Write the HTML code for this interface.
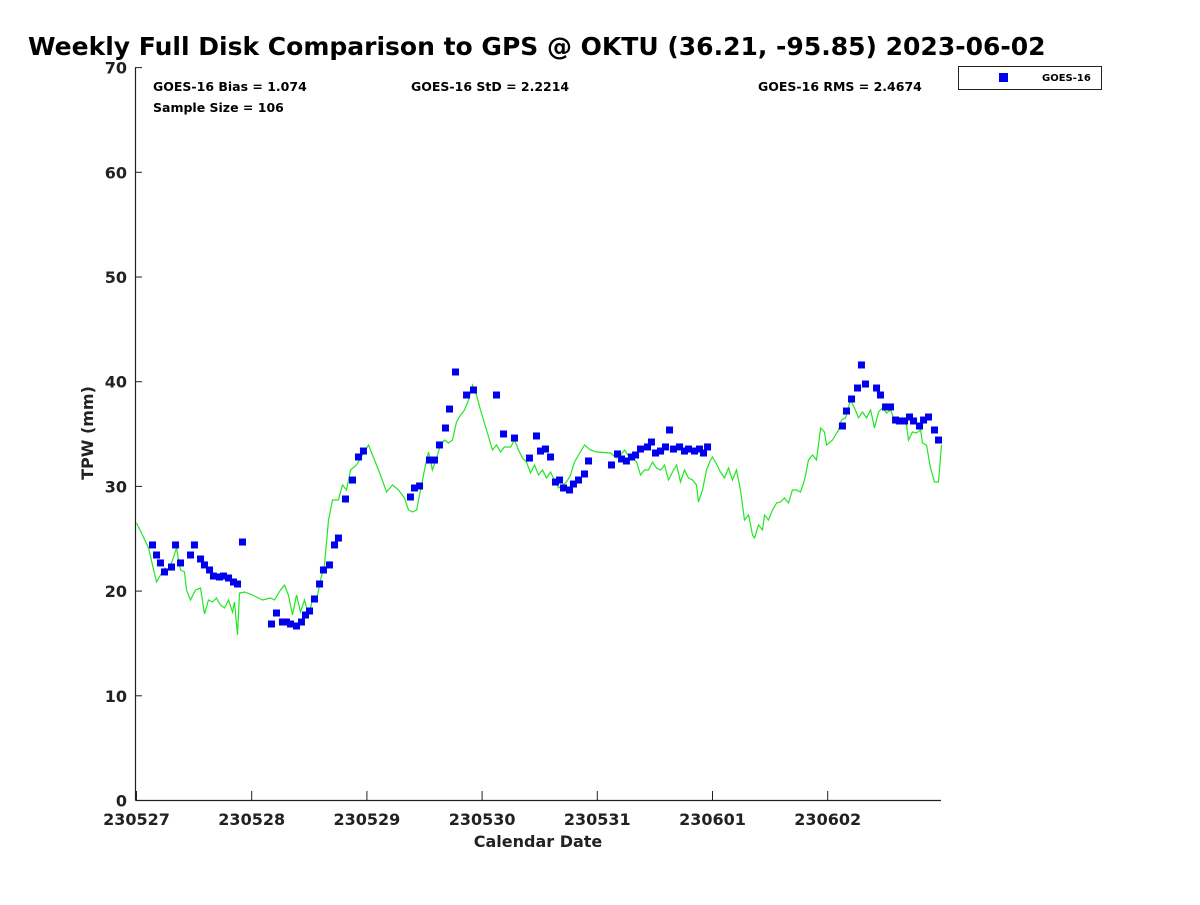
<!DOCTYPE html>
<html><head><meta charset="utf-8"><style>
body{margin:0;background:#fff}
svg text{font-family:"DejaVu Sans","Liberation Sans",sans-serif;font-weight:bold;fill:#222}
</style></head><body>
<svg id="chart" width="1200" height="900" xmlns="http://www.w3.org/2000/svg">
<text x="28" y="55" font-size="25" style="fill:#000">Weekly Full Disk Comparison to GPS @ OKTU (36.21, -95.85) 2023-06-02</text>
<g id="axes"></g>
<g id="gps-line"></g>
<g id="points"></g>
<text x="153" y="91" font-size="12.5" style="fill:#000">GOES-16 Bias = 1.074</text>
<text x="153" y="112" font-size="12.5" style="fill:#000">Sample Size = 106</text>
<text x="411" y="91" font-size="12.5" style="fill:#000">GOES-16 StD = 2.2214</text>
<text x="758" y="91" font-size="12.5" style="fill:#000">GOES-16 RMS = 2.4674</text>
<g>
<rect x="958.5" y="66.5" width="143" height="23" fill="#fff" stroke="#222"/>
<rect x="999" y="73" width="9" height="9" fill="#0000ee"/>
<text x="1042" y="81" font-size="10" style="fill:#000">GOES-16</text>
</g>
<text x="538" y="847" font-size="16" text-anchor="middle">Calendar Date</text>
<text transform="translate(93,433) rotate(-90)" font-size="16" text-anchor="middle">TPW (mm)</text>
</svg>
<script>
const xTickLabels=["230527","230528","230529","230530","230531","230601","230602"];
const yTickLabels=[0,10,20,30,40,50,60,70];
const goesDay=[0.139,0.174,0.208,0.243,0.304,0.339,0.382,0.469,0.503,0.556,0.590,0.634,0.668,0.720,0.755,0.799,0.842,0.877,0.920,1.172,1.215,1.267,1.302,1.337,1.389,1.432,1.467,1.502,1.545,1.589,1.623,1.675,1.719,1.753,1.814,1.875,1.927,1.970,2.378,2.413,2.457,2.543,2.587,2.630,2.682,2.717,2.769,2.865,2.925,3.125,3.186,3.281,3.411,3.472,3.507,3.550,3.594,3.637,3.672,3.707,3.759,3.793,3.837,3.889,3.924,4.123,4.175,4.210,4.253,4.297,4.332,4.375,4.436,4.470,4.505,4.549,4.592,4.627,4.661,4.714,4.757,4.792,4.844,4.887,4.922,4.957,6.128,6.163,6.207,6.259,6.293,6.328,6.424,6.458,6.502,6.545,6.589,6.623,6.667,6.710,6.745,6.797,6.832,6.875,6.927,6.962];
const goesTpw=[24.36,23.40,22.64,21.78,22.25,24.36,22.64,23.40,24.36,23.02,22.45,21.97,21.39,21.30,21.39,21.20,20.82,20.63,24.64,16.81,17.86,17.00,17.00,16.81,16.62,17.00,17.67,18.05,19.20,20.63,21.97,22.45,24.36,25.02,28.75,30.56,32.76,33.33,28.94,29.80,29.99,32.47,32.47,33.91,35.53,37.34,40.88,38.68,39.16,38.68,34.96,34.57,32.66,34.77,33.33,33.52,32.76,30.37,30.56,29.80,29.61,30.18,30.56,31.14,32.38,32.00,33.05,32.57,32.38,32.76,32.95,33.52,33.72,34.19,33.14,33.33,33.72,35.34,33.52,33.72,33.33,33.52,33.33,33.52,33.14,33.72,35.72,37.15,38.30,39.35,41.55,39.73,39.35,38.68,37.54,37.54,36.29,36.20,36.20,36.58,36.20,35.72,36.29,36.58,35.34,34.38];
const gpsDay=[0,0.052,0.104,0.139,0.174,0.208,0.243,0.278,0.313,0.347,0.382,0.417,0.434,0.469,0.512,0.556,0.590,0.625,0.660,0.694,0.729,0.764,0.799,0.833,0.851,0.877,0.894,0.938,1.007,1.094,1.163,1.198,1.250,1.285,1.319,1.354,1.389,1.424,1.458,1.493,1.528,1.563,1.597,1.632,1.667,1.701,1.753,1.788,1.823,1.858,1.910,1.962,2.014,2.066,2.118,2.170,2.222,2.274,2.326,2.361,2.396,2.431,2.465,2.500,2.535,2.569,2.604,2.639,2.674,2.708,2.743,2.778,2.813,2.847,2.882,2.917,2.951,2.986,3.038,3.090,3.125,3.160,3.194,3.247,3.281,3.316,3.351,3.385,3.420,3.455,3.490,3.524,3.559,3.594,3.628,3.663,3.698,3.733,3.767,3.802,3.837,3.889,3.941,3.993,4.115,4.167,4.201,4.236,4.271,4.306,4.340,4.375,4.410,4.444,4.479,4.514,4.549,4.583,4.618,4.653,4.688,4.722,4.757,4.792,4.826,4.861,4.878,4.913,4.948,4.983,5.000,5.035,5.069,5.104,5.139,5.174,5.208,5.243,5.278,5.313,5.347,5.365,5.399,5.434,5.451,5.486,5.521,5.556,5.590,5.625,5.660,5.694,5.729,5.764,5.799,5.833,5.868,5.903,5.938,5.972,5.990,6.042,6.094,6.120,6.155,6.198,6.233,6.267,6.302,6.337,6.372,6.406,6.441,6.476,6.510,6.545,6.580,6.615,6.649,6.684,6.701,6.736,6.771,6.806,6.823,6.858,6.892,6.927,6.962,6.988];
const gpsTpw=[26.46,25.31,24.07,22.45,20.82,21.49,22.16,21.97,22.92,24.07,21.97,21.78,20.06,19.10,20.06,20.25,17.77,19.10,18.91,19.29,18.62,18.34,19.10,17.96,18.91,15.76,19.77,19.87,19.58,19.10,19.29,19.10,20.06,20.53,19.58,17.67,19.58,17.96,19.10,17.67,19.10,19.10,21.01,22.45,26.74,28.65,28.65,30.09,29.61,31.52,32.00,32.95,33.91,32.47,31.04,29.42,30.09,29.61,28.84,27.70,27.51,27.70,29.61,31.52,33.24,31.52,32.66,33.91,34.38,34.10,34.38,36.10,36.77,37.25,38.20,39.64,38.68,37.25,35.34,33.43,33.91,33.24,33.72,33.72,34.38,33.43,32.66,32.28,31.23,32.00,31.04,31.52,30.75,31.33,30.56,29.80,30.09,30.37,31.04,32.28,32.95,33.91,33.43,33.24,33.14,32.66,32.95,33.43,32.86,32.66,32.28,31.04,31.52,31.52,32.28,31.71,31.52,32.00,30.56,31.33,32.00,30.37,31.52,30.75,30.56,30.09,28.46,29.61,31.52,32.47,32.76,32.09,31.33,30.75,31.71,30.56,31.52,29.61,26.74,27.22,25.31,25.02,26.27,25.79,27.22,26.74,27.70,28.37,28.46,28.84,28.37,29.61,29.61,29.42,30.56,32.47,32.95,32.47,35.53,35.15,33.91,34.38,35.34,36.29,36.49,38.20,37.44,36.49,37.06,36.49,37.25,35.53,37.06,37.44,36.96,37.25,36.29,36.01,36.49,35.82,34.38,35.15,35.05,35.34,34.10,33.91,31.71,30.37,30.37,33.91];

const NS="http://www.w3.org/2000/svg";
const X0=136.5,DAYPX=115.2,Y0=800,YPX=10.47,XR=941;
function xs(d){return X0+d*DAYPX;}
function ys(v){return Y0-v*YPX;}
function mk(tag,attrs,parent){const e=document.createElementNS(NS,tag);for(const k in attrs)e.setAttribute(k,attrs[k]);parent.appendChild(e);return e;}
const axes=document.getElementById('axes');
const yl=mk('line',{x1:135.5,y1:ys(70),x2:135.5,y2:Y0+0.5,stroke:'#222','stroke-width':1.2},axes);


const xl=mk('line',{x1:135.5,y1:Y0+0.5,x2:XR,y2:Y0+0.5,stroke:'#222','stroke-width':1.2},axes);


yTickLabels.forEach(v=>{
 const y=ys(v)+0.5;
 const t=mk('line',{x1:135.5,y1:y,x2:142,y2:y,stroke:'#222'},axes);
 
 
 const l=mk('text',{x:127,y:y+6,'font-size':16,'text-anchor':'end'},axes);
 l.textContent=v;
 
 
});
xTickLabels.forEach((s,i)=>{
 const x=xs(i);
 const t=mk('line',{x1:x,y1:Y0,x2:x,y2:Y0-9,stroke:'#222'},axes);
 
 
 const l=mk('text',{x:x,y:825,'font-size':16,'text-anchor':'middle'},axes);
 l.textContent=s;
 
 
});
const lg=document.getElementById('gps-line');
const pts=gpsDay.map((d,i)=>xs(d).toFixed(1)+','+ys(gpsTpw[i]).toFixed(1)).join(' ');
const pl=mk('polyline',{points:pts,fill:'none',stroke:'#22e622','stroke-width':1.2},lg);


const pg=document.getElementById('points');
goesDay.forEach((d,i)=>{
 const r=mk('rect',{x:xs(d)-3.5,y:ys(goesTpw[i])-3.5,width:7,height:7,fill:'#0000ee'},pg);
 
 
});
</script>
</body></html>
